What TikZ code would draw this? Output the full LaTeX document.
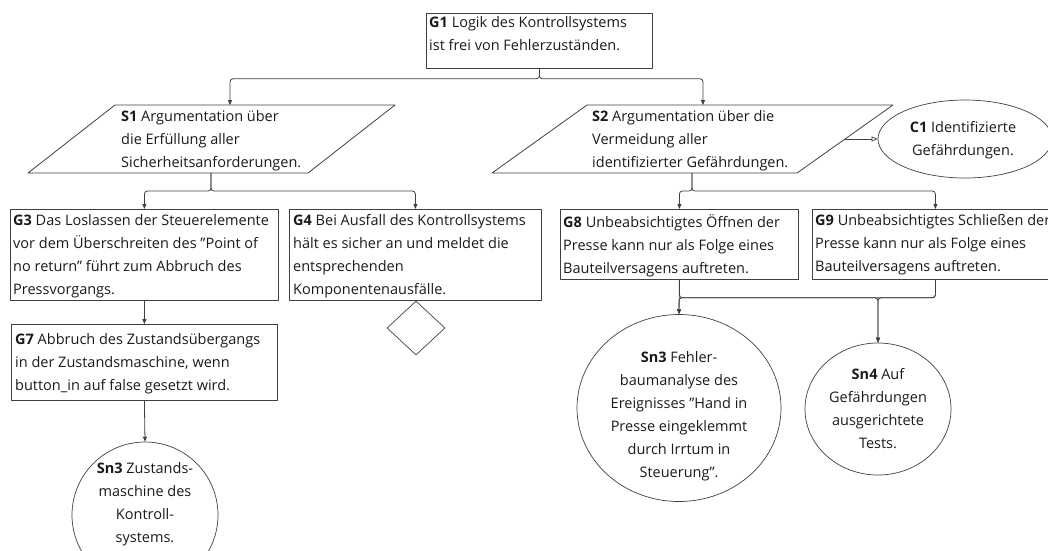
\documentclass[tikz,border=0pt]{standalone}
\usepackage{fontspec}
\setmainfont{Open Sans}
\usetikzlibrary{arrows.meta,calc,shapes.geometric}
\definecolor{ln}{HTML}{404040}
\definecolor{tx}{HTML}{1A1A1A}
\newcommand{\qq}{\symbol{34}}
\begin{document}
\begin{tikzpicture}[x=1pt,y=-1pt,line join=round,
  box/.style={draw=ln,line width=0.8pt,rectangle,inner sep=0,anchor=north west},
  txt/.style={anchor=north west,align=left,inner sep=0,text=tx,font=\fontsize{14.5}{23}\selectfont},
  ctxt/.style={align=center,inner sep=0,text=tx,font=\fontsize{14.5}{23}\selectfont},
  ell/.style={draw=ln,line width=0.7pt,ellipse,inner sep=0},
  dia/.style={draw=ln,line width=0.7pt,diamond,inner sep=0},
  para/.style={draw=ln,line width=0.8pt},
  conn/.style={draw=ln,line width=0.8pt,rounded corners=3pt,-{Triangle[length=5pt,width=4pt]}},
  oconn/.style={draw=ln,line width=0.7pt,-{Triangle[open,length=6pt,width=5pt]}}]
\useasboundingbox (0,0) rectangle (1048,550);
\clip (0,0) rectangle (1048,550);

% G1
\node[box,minimum width=226,minimum height=55] (g1) at (426,13) {};
\node[txt] (g1t) at (429,16) {\textbf{G1} Logik des Kontrollsystems\\ist frei von Fehlerzuständen.};

% S1 parallelogram
\coordinate (s1a) at (115,105);
\coordinate (s1b) at (395,105);
\coordinate (s1c) at (308,173);
\coordinate (s1d) at (28,173);
\draw[para] (s1a) -- (s1b) -- (s1c) -- (s1d) -- cycle;
\coordinate (s1in) at (230,105);
\coordinate (s1out) at (211,173);
\node[txt] (s1t) at (121,110) {\textbf{S1} Argumentation über\\die Erfüllung aller\\Sicherheitsanforderungen.};

% S2 parallelogram
\coordinate (s2a) at (587,105);
\coordinate (s2b) at (893,105);
\coordinate (s2c) at (797,173);
\coordinate (s2d) at (492,173);
\draw[para] (s2a) -- (s2b) -- (s2c) -- (s2d) -- cycle;
\coordinate (s2in) at (703,105);
\coordinate (s2out) at (692,173);
\coordinate (s2r) at ($(s2b)!0.5!(s2c)$);
\node[txt] (s2t) at (592,110) {\textbf{S2} Argumentation über die\\Vermeidung aller\\identifizierter Gefährdungen.};

% C1
\node[ell,minimum width=174,minimum height=78] (c1) at (965,139) {};
\node[ctxt] (c1t) at (963,140) {\textbf{C1} Identifizierte\\Gefährdungen.};

% G3, G4
\node[box,minimum width=268,minimum height=91] (g3) at (10,209) {};
\node[txt] (g3t) at (13,214) {\textbf{G3} Das Loslassen der Steuerelemente\\vor dem Überschreiten des \qq Point of\\no return\qq{} führt zum Abbruch des\\Pressvorgangs.};
\node[box,minimum width=252,minimum height=91] (g4) at (289,209) {};
\node[txt] (g4t) at (293,214) {\textbf{G4} Bei Ausfall des Kontrollsystems\\hält es sicher an und meldet die\\entsprechenden\\Komponentenausfälle.};
\node[dia,minimum width=58,minimum height=54] (g4u) at (416,328) {};

% G7
\node[box,minimum width=266,minimum height=76] (g7) at (11,324) {};
\node[txt] (g7t) at (15,333) {\textbf{G7} Abbruch des Zustandsübergangs\\in der Zustandsmaschine, wenn\\button\_in auf false gesetzt wird.};

% Sn3 (left)
\node[ell,minimum width=146,minimum height=146] (sn3a) at (145,515) {};
\node[ctxt] (sn3at) at (145,504) {\textbf{Sn3} Zustands-\\maschine des\\Kontroll-\\systems.};

% G8, G9
\node[box,minimum width=238,minimum height=70] (g8) at (560,209) {};
\node[txt] (g8t) at (563,214) {\textbf{G8} Unbeabsichtigtes Öffnen der\\Presse kann nur als Folge eines\\Bauteilversagens auftreten.};
\node[box,minimum width=246,minimum height=70] (g9) at (812,209) {};
\node[txt] (g9t) at (815,214) {\textbf{G9} Unbeabsichtigtes Schließen der\\Presse kann nur als Folge eines\\Bauteilversagens auftreten.};

% Sn3 (right), Sn4
\node[ell,minimum width=204,minimum height=187] (sn3b) at (679,408) {};
\node[ctxt] (sn3bt) at (679,416) {\textbf{Sn3} Fehler-\\baumanalyse des\\Ereignisses \qq Hand in\\Presse eingeklemmt\\durch Irrtum in\\Steuerung\qq.};
\node[ell,minimum width=146,minimum height=132] (sn4) at (878,409) {};
\node[ctxt] (sn4t) at (878,409) {\textbf{Sn4} Auf\\Gefährdungen\\ausgerichtete\\Tests.};

% connectors
\draw[conn] (g1.south) -- ++(0,10) -| (s1in);
\draw[conn] (g1.south) -- ++(0,10) -| (s2in);
\draw[conn] (s1out) -- ++(0,18) -| (g3.north);
\draw[conn] (s1out) -- ++(0,18) -| (g4.north);
\draw[conn] (s2out) -- ++(0,18) -| (g8.north);
\draw[conn] (s2out) -- ++(0,18) -| (g9.north);
\draw[oconn] (s2r) -- (c1.west);
\draw[conn] (g3.south) -- (g7.north);
\draw[conn] (g7.south) -- (sn3a.north);
\draw[conn] (g8.south) -- (sn3b.north);
\draw[conn] (g8.south) -- ++(0,18) -| (sn4.north);
\draw[conn] (g9.south) -- ++(0,18) -| (sn3b.north);
\draw[conn] (g9.south) -- ++(0,18) -| (sn4.north);
\end{tikzpicture}
\end{document}
